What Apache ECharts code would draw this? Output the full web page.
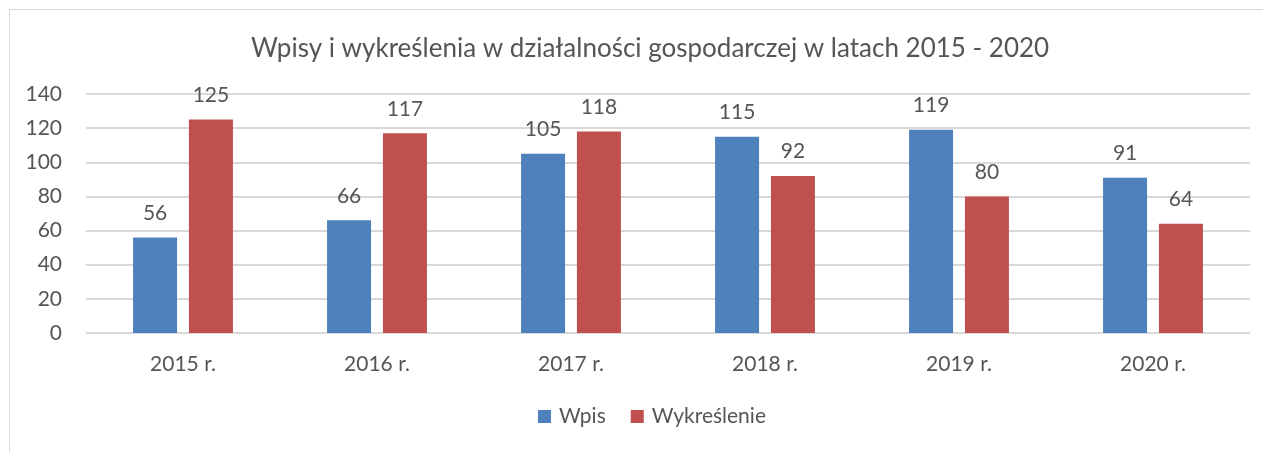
<!DOCTYPE html>
<html>
<head>
<meta charset="utf-8">
<title></title>
<style>
    * { margin: 0; padding: 0; }
    #main { width: 1263px; height: 452px; background: #fff; }
</style>
</head>
<body>
<div id="main"></div>
<script src="https://cdn.jsdelivr.net/npm/echarts@6/dist/echarts.min.js"></script>
<script>
    var years = ['2015 r.', '2016 r.', '2017 r.', '2018 r.', '2019 r.', '2020 r.'];
    var wpis = [56, 66, 105, 115, 119, 91];
    var wykreslenie = [125, 117, 118, 92, 80, 64];

    var font = 'Lato, "Open Sans", sans-serif';
    var grey = '#555555';

    var myChart = echarts.init(document.getElementById('main'));
    var option = {
        animation: false,
        textStyle: { fontFamily: font },
        title: {
            text: 'Wpisy i wykreślenia w działalności gospodarczej w latach 2015 - 2020',
            left: 246,
            top: 31,
            textStyle: { fontFamily: font, fontSize: 26, fontWeight: 'normal', color: grey }
        },
        graphic: [{
            type: 'rect',
            shape: { x: 9.5, y: 9.5, width: 1300, height: 500 },
            style: { fill: 'none', stroke: '#D9D9D9', lineWidth: 1 },
            silent: true
        }],
        legend: {
            bottom: 20,
            left: 533,
            itemWidth: 13,
            itemHeight: 13,
            itemGap: 25,
            icon: 'rect',
            textStyle: { fontFamily: font, fontSize: 21, color: grey, padding: [0, 0, 0, 3] }
        },
        grid: { left: 86, right: 13, top: 94, bottom: 119 },
        xAxis: {
            type: 'category',
            data: years,
            axisLine: { lineStyle: { color: '#D9D9D9' } },
            axisTick: { show: false },
            axisLabel: { fontFamily: font, fontSize: 21, color: grey, margin: 21 }
        },
        yAxis: {
            type: 'value',
            min: 0,
            max: 140,
            interval: 20,
            axisLine: { show: false },
            axisTick: { show: false },
            splitLine: { lineStyle: { color: '#D9D9D9', width: 2 } },
            axisLabel: { fontFamily: font, fontSize: 21, color: grey, margin: 24 }
        },
        series: [
            {
                name: 'Wpis',
                type: 'bar',
                data: wpis,
                barWidth: 44,
                barGap: '27%',
                itemStyle: { color: '#4F81BD' },
                label: { show: true, position: 'top', distance: 14, fontFamily: font, fontSize: 21, color: grey }
            },
            {
                name: 'Wykreślenie',
                type: 'bar',
                data: wykreslenie,
                barWidth: 44,
                itemStyle: { color: '#C0504D' },
                label: { show: true, position: 'top', distance: 14, fontFamily: font, fontSize: 21, color: grey }
            }
        ]
    };
    myChart.setOption(option);
</script>
</body>
</html>
